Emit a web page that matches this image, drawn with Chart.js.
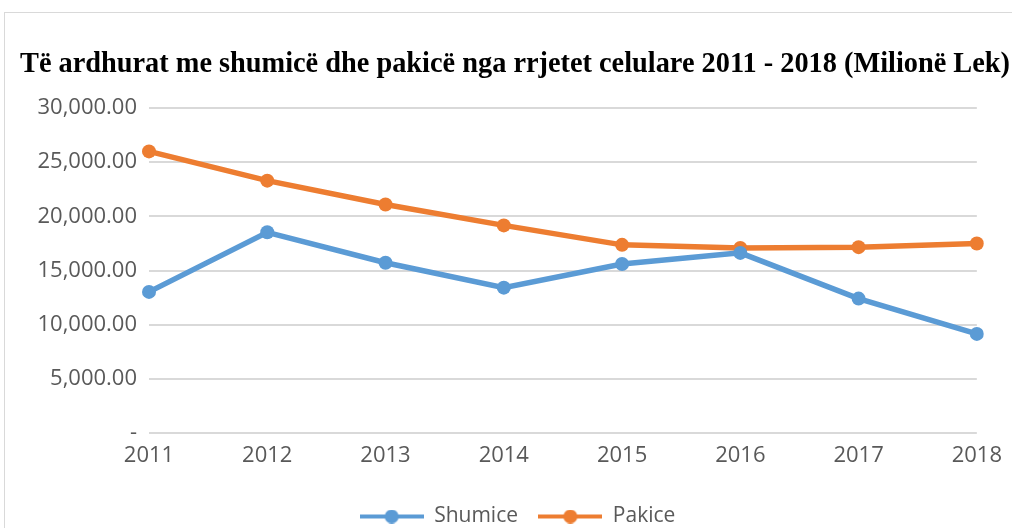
<!DOCTYPE html>
<html>
<head>
<meta charset="utf-8">
<script src="https://cdn.jsdelivr.net/npm/chart.js@4"></script>
<style>
  html, body { margin: 0; padding: 0; background: #fff; }
  #wrap { position: relative; width: 1012px; height: 528px; overflow: hidden; }
  #frame { position: absolute; left: 4px; top: 12px; width: 1100px; height: 600px; border: 1px solid #D9D9D9; }
  canvas { position: absolute; left: 0; top: 0; }
</style>
</head>
<body>
<div id="wrap">
  <div id="frame"></div>
  <canvas id="myChart" width="1012" height="528"></canvas>
</div>
<script>
var years = ["2011", "2012", "2013", "2014", "2015", "2016", "2017", "2018"];
var shumice = [13030, 18530, 15720, 13420, 15600, 16630, 12410, 9150];
var pakice = [26000, 23300, 21100, 19170, 17370, 17080, 17160, 17500];
var yTicks = [0, 5000, 10000, 15000, 20000, 25000, 30000];

var blue = "#5B9BD5";
var orange = "#ED7D31";
var tickFont = "'Open Sans', 'Liberation Sans', sans-serif";

// legend marker: short line with a dot in the middle
function legendMarker(color) {
  var c = document.createElement("canvas");
  c.width = 64;
  c.height = 14;
  var g = c.getContext("2d");
  g.strokeStyle = color;
  g.lineWidth = 4;
  g.beginPath();
  g.moveTo(0, 7);
  g.lineTo(64, 7);
  g.stroke();
  g.fillStyle = color;
  g.beginPath();
  g.arc(32, 7, 7, 0, Math.PI * 2);
  g.fill();
  return c;
}

function fmt(v) {
  if (v === 0) return "-";
  return v.toLocaleString("en-US", { minimumFractionDigits: 2, maximumFractionDigits: 2 });
}

// title and legend are centred on the whole frame, not on the plot area
var shiftBoxes = {
  id: "shiftBoxes",
  afterLayout: function (chart) {
    var t = chart.titleBlock;
    t.left = 20;
    t.right = 1010;
    t.width = 990;
    var l = chart.legend;
    l.left += 27;
    l.right += 27;
    l.top += 9;
    l.bottom += 9;
  },
};

var ctx = document.getElementById("myChart").getContext("2d");
var chart = new Chart(ctx, {
  type: "line",
  data: {
    labels: years,
    datasets: [
      {
        label: "Shumice   ",
        data: shumice,
        borderColor: blue,
        backgroundColor: blue,
        borderWidth: 5.5,
        pointRadius: 7,
        pointBorderWidth: 0,
        tension: 0,
      },
      {
        label: "Pakice",
        data: pakice,
        borderColor: orange,
        backgroundColor: orange,
        borderWidth: 5.5,
        pointRadius: 7,
        pointBorderWidth: 0,
        tension: 0,
      },
    ],
  },
  plugins: [shiftBoxes],
  options: {
    responsive: false,
    animation: false,
    layout: { padding: { left: 0, right: 31, top: 0, bottom: 0 } },
    plugins: {
      title: {
        display: true,
        text: "Të ardhurat me shumicë dhe pakicë nga rrjetet celulare 2011 - 2018 (Milionë Lek)",
        color: "#000",
        font: { family: "'Liberation Serif', 'Times New Roman', serif", size: 28.4, weight: "bold" },
        padding: { top: 48, bottom: 26 },
      },
      legend: {
        position: "bottom",
        labels: {
          usePointStyle: true,
          pointStyleWidth: 64,
          boxHeight: 14,
          color: "#595959",
          font: { family: tickFont, size: 21 },
          padding: 4,
          generateLabels: function (chart) {
            var items = Chart.defaults.plugins.legend.labels.generateLabels(chart);
            items.forEach(function (it, i) {
              it.pointStyle = legendMarker(i === 0 ? blue : orange);
            });
            return items;
          },
        },
      },
      tooltip: { enabled: false },
    },
    scales: {
      x: {
        offset: false,
        afterFit: function (scale) { scale.height = 60; },
        grid: { display: false, drawTicks: false },
        border: { display: false },
        ticks: { color: "#595959", font: { family: tickFont, size: 22 }, padding: 10, maxRotation: 0 },
      },
      y: {
        min: 0,
        max: 30000,
        afterFit: function (scale) { scale.width = 149; },
        afterBuildTicks: function (scale) {
          scale.ticks = yTicks.map(function (v) { return { value: v }; });
        },
        grid: { color: "#D9D9D9", lineWidth: 2, drawTicks: false },
        border: { display: false },
        ticks: {
          color: "#595959",
          font: { family: tickFont, size: 22 },
          padding: 12,
          callback: function (value) { return fmt(value); },
        },
      },
    },
  },
});
</script>
</body>
</html>
